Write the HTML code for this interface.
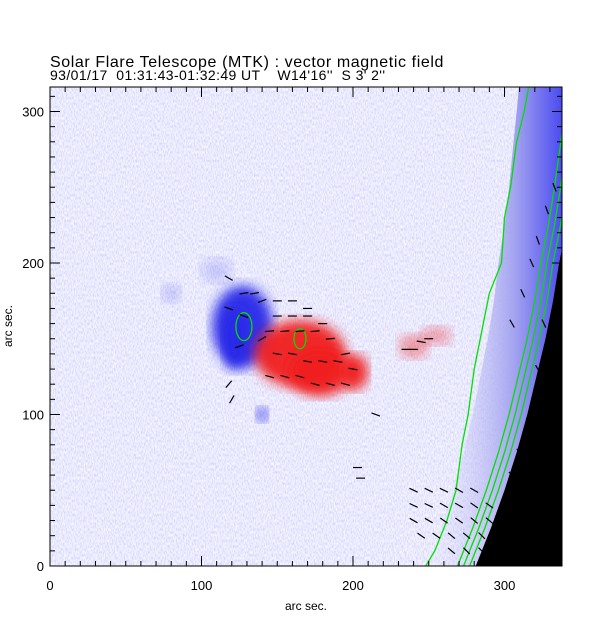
<!DOCTYPE html>
<html><head><meta charset="utf-8"><style>
body{margin:0;background:#fff;width:612px;height:617px;overflow:hidden}
text{font-family:"Liberation Sans",sans-serif;fill:#000;white-space:pre}
</style></head><body>
<svg width="612" height="617" viewBox="0 0 612 617">
<defs>
<filter id="b6"><feGaussianBlur stdDeviation="6"/></filter>
<filter id="noise" x="0" y="0" width="100%" height="100%">
<feTurbulence type="fractalNoise" baseFrequency="0.9 0.35" numOctaves="1" seed="3"/>
<feColorMatrix values="0 0 0 0 0.6  0 0 0 0 0.6  0 0 0 0 1  0 0 0 -2.2 1.45"/>
</filter>
<linearGradient id="limbg" x1="0" x2="1" y1="0" y2="0">
<stop offset="0" stop-color="#dcdcf8" stop-opacity="0"/>
<stop offset="0.55" stop-color="#a0a0f0"/>
<stop offset="1" stop-color="#1818f0"/>
</linearGradient>
<clipPath id="plotclip"><rect x="50" y="87" width="512" height="479"/></clipPath>
</defs>
<g>
<text x="50" y="67" font-size="16" letter-spacing="0.6">Solar Flare Telescope (MTK) : vector magnetic field</text>
<text x="50" y="80" font-size="14" letter-spacing="0.4">93/01/17  01:31:43-01:32:49 UT    W14'16''  S 3' 2''</text>
</g>
<g clip-path="url(#plotclip)">
<rect x="50" y="87" width="512" height="479" fill="#f6f6fe"/>
<rect x="50" y="87" width="512" height="479" filter="url(#noise)" opacity="0.85"/>
<g id="blobs"></g>
<path id="limbband" fill="url(#limbg)"/>
<path id="limbblack" fill="#000"/>
<g id="contours" fill="none" stroke="#00e000" stroke-width="1.3"></g>
<g id="arrows" stroke="#000" stroke-width="1.2"></g>
</g>
<rect x="50" y="87" width="512" height="479" fill="none" stroke="#000" stroke-width="1"/>
<g id="axes"></g>
<text x="306" y="610" font-size="12" text-anchor="middle">arc sec.</text>
<text transform="translate(12,326) rotate(-90)" font-size="12" text-anchor="middle">arc sec.</text>
</svg>
<script>
const xTicks=[0,100,200,300];
const yTicks=[0,100,200,300];
// blobs: [x, y, rx, ry, polarity] in arc sec
const blobX=[127,122,165,178,200,240,140,110,255,80];
const blobY=[158,150,140,128,128,145,100,195,152,180];
const blobRX=[20,8,30,20,10,10,4,10,10,6];
const blobRY=[27,20,22,16,12,8,5,8,6,6];
const blobPol=[-1,-1,1,1,1,0.45,-0.8,-0.2,0.4,-0.25];
// limb (black region boundary) x at y
const limbY=[0,25,50,75,100,125,150,175,200,225,250,300,330];
const limbX=[281,291,300,308,315,321,327,332,336,341,345,352,356];
// outer green contour
const cY=[0,10,30,50,80,100,130,150,180,200,230,250,280,300,316];
const cX=[248,254,262,268,272,276,280,284,290,298,300,304,308,313,316];
// field vectors: x, y (arc sec), angle (deg)
const arrX=[118,128,135,140,150,160,170,180,145,155,165,175,185,195,150,160,170,180,190,200,145,155,165,175,185,195,125,140,118,120,150,160,170,118,128,235,240,245,250,
240,250,260,270,280,240,250,260,270,280,290,240,250,260,270,280,290,245,255,265,275,285,295,300,265,275,285,295,300,
305,310,315,320,325,330,305,312,318,322,328,333,310,316,322,326,203,205,215];
const arrY=[190,180,180,175,165,165,165,160,155,155,155,155,150,140,140,140,135,135,135,130,125,125,125,120,120,120,145,150,120,110,175,175,170,170,165,143,143,148,150,
50,50,50,50,50,40,40,40,40,40,40,30,30,30,30,30,30,20,20,20,20,20,20,20,10,10,10,10,10,
60,75,90,105,120,135,160,180,200,215,235,250,65,95,130,160,65,58,100];
const arrA=[-30,10,10,20,0,0,0,0,5,5,5,5,5,10,-10,-10,-10,-10,-10,-10,-15,-15,-15,-15,-15,-15,20,30,50,60,0,0,0,-20,-20,0,0,-10,0,
-25,-25,-25,-30,-30,-25,-25,-30,-30,-35,-35,-30,-30,-35,-35,-40,-40,-35,-35,-40,-40,-45,-45,-45,-40,-45,-45,-50,-50,
-45,-50,-55,-55,-60,-60,-60,-65,-65,-70,-70,-70,-50,-55,-60,-65,0,0,-20];
const X0=50,Y0=566,S=1.515;
const sx=v=>X0+v*S, sy=v=>Y0-v*S;
const NS='http://www.w3.org/2000/svg';
function mk(tag,attrs,parent){const e=document.createElementNS(NS,tag);for(const k in attrs)e.setAttribute(k,attrs[k]);parent.appendChild(e);return e;}
const ax=document.getElementById('axes');
for(let v=0;v<=338;v+=10){const M=v%100===0;
 const t=mk('line',{x1:sx(v),x2:sx(v),y1:Y0,y2:Y0-(M?10:5),stroke:'#000'},ax);
 const t2=mk('line',{x1:sx(v),x2:sx(v),y1:87,y2:87+(M?10:5),stroke:'#000'},ax);}
for(let v=0;v<=316;v+=10){const M=v%100===0;
 const t=mk('line',{x1:X0,x2:X0+(M?10:5),y1:sy(v),y2:sy(v),stroke:'#000'},ax);
 const t2=mk('line',{x1:562,x2:562-(M?10:5),y1:sy(v),y2:sy(v),stroke:'#000'},ax);}
xTicks.forEach(v=>{const t=mk('text',{x:sx(v),y:590,'font-size':13,'text-anchor':'middle'},ax);t.textContent=v;});
yTicks.forEach(v=>{const t=mk('text',{x:44,y:sy(v)+5,'font-size':13,'text-anchor':'end'},ax);t.textContent=v;});
const bl=document.getElementById('blobs');
blobX.forEach((x,i)=>{const p=blobPol[i];const c=p<0?'#2828e8':'#f02020';
 const e=mk('ellipse',{cx:sx(x),cy:sy(blobY[i]),rx:blobRX[i]*S,ry:blobRY[i]*S,fill:c,'fill-opacity':Math.abs(p)*0.95,filter:'url(#b6)'},bl);
 });
let lp='M'+limbY.map((y,i)=>sx(limbX[i])+','+sy(y)).join(' L');
document.getElementById('limbblack').setAttribute('d',lp+' L640,0 L640,640 L'+sx(limbX[0])+',640 Z');
let band='M'+limbY.map((y,i)=>sx(limbX[i]-32-y*0.04)+','+sy(y)).join(' L')+' L'+limbY.slice().reverse().map(y=>sx(limbX[limbY.indexOf(y)])+','+sy(y)).join(' L')+' Z';
const lb=document.getElementById('limbband');lb.setAttribute('d',band);
const cg=document.getElementById('contours');
const c1=mk('path',{d:'M'+cY.map((y,i)=>sx(cX[i])+','+sy(y)).join(' L')},cg);
[-12,-8,-4].forEach(o=>{const c=mk('path',{d:'M'+limbY.map((y,i)=>sx(limbX[i]+o)+','+sy(y)).join(' L')},cg);});
const c2=mk('ellipse',{cx:sx(128),cy:sy(158),rx:8,ry:14},cg);
const c3=mk('ellipse',{cx:sx(165),cy:sy(150),rx:6,ry:10},cg);
const ag=document.getElementById('arrows');
arrX.forEach((x,i)=>{const a=arrA[i]*Math.PI/180,L=4.5;const cx=sx(x),cy=sy(arrY[i]);
 const l=mk('line',{x1:cx-L*Math.cos(a),y1:cy+L*Math.sin(a),x2:cx+L*Math.cos(a),y2:cy-L*Math.sin(a)},ag);
 });
</script>
</body></html>
